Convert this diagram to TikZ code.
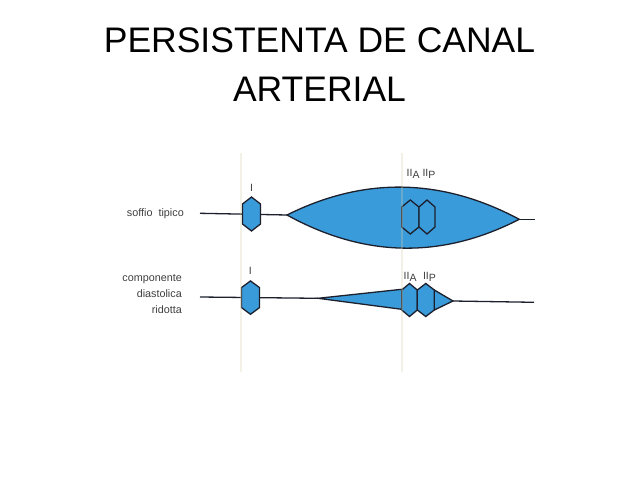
\documentclass[tikz,border=0pt]{standalone}
\usepackage{fontspec}
\setmainfont{Liberation Sans}
\definecolor{murmur}{RGB}{58,155,218}
\definecolor{ink}{RGB}{28,32,44}
\definecolor{labgrey}{RGB}{62,62,62}
\definecolor{guide}{RGB}{214,206,172}
\tikzset{
  wire/.style={draw=ink, line width=1.3pt},
  blob/.style={fill=murmur, draw=ink, line width=1.3pt, line join=miter},
  guideline/.style={draw=guide, line width=2pt, opacity=0.3},
  title/.style={font=\fontsize{35.5}{40}\selectfont, text=black, inner sep=0pt, anchor=base},
  rowlab/.style={font=\fontsize{10.8}{12}\selectfont, text=labgrey, inner sep=0pt, anchor=base east},
  snd/.style={font=\fontsize{10.5}{11}\selectfont, text=labgrey, inner sep=0pt},
  pics/hexa/.style args={#1/#2/#3}{code={
    \filldraw[blob] (-#1,-#3) -- (0,-#2) -- (#1,-#3) -- (#1,#3) -- (0,#2) -- (-#1,#3) -- cycle;}}
}
\newcommand{\IIsub}[1]{II\raisebox{-2.2pt}{#1}}
\begin{document}
\begin{tikzpicture}[x=1pt,y=-1pt]
\useasboundingbox (0,0) rectangle (638,479);
% title
\node[title] (t1) at (319.5,52.7) {PERSISTENTA DE CANAL};
\node[title] (t2) at (319.5,101.7) {ARTERIAL};
% row labels
\node[rowlab] (l1) at (184,216) {soffio\ \ tipico};
\node[rowlab] (l2a) at (182,281.7) {componente};
\node[rowlab] (l2b) at (182,297.7) {diastolica};
\node[rowlab] (l2c) at (182,313.3) {ridotta};
% ---- row 1 ----
\coordinate (a1) at (200,213.3);
\coordinate (lensL) at (287,215);
\coordinate (lensR) at (519.3,219.3);
\coordinate (b1) at (535,219.3);
\draw[wire] (a1) -- (lensL);
\draw[wire] (lensR) -- (b1);
\filldraw[blob] (lensL) .. controls (364.3,176.4) and (441.7,177.9) .. (lensR)
  .. controls (441.7,259.2) and (364.3,257.7) .. (lensL) -- cycle;
\pic at (251.5,214) {hexa=9/17/10};
\pic at (410.3,217) {hexa=8.6/17/10};
\pic at (427,217) {hexa=8/17/10};
\node[snd] (i1) at (251.7,187.5) {I};
\node[snd, anchor=base west] (ia1) at (406.5,176.7) {\IIsub{A}};
\node[snd, anchor=base west] (ip1) at (422.3,176.7) {\IIsub{P}};
% ---- row 2 ----
\coordinate (a2) at (200,297);
\coordinate (triL) at (318,298.3);
\coordinate (triR) at (453,301);
\coordinate (b2) at (534,302.3);
\draw[wire] (a2) -- (triL);
\draw[wire] (triR) -- (b2);
\filldraw[blob] (triL) -- (401.7,289.3) -- (401.7,309.3) -- cycle;
\filldraw[blob] (434.3,290) -- (triR) -- (434.3,310) -- cycle;
\pic at (250.5,297.6) {hexa=9/16.7/10};
\pic at (409.5,300) {hexa=7.8/16.5/10};
\pic at (425.8,300) {hexa=8.5/16.5/10};
\node[snd] (i2) at (250.3,271) {I};
\node[snd, anchor=base west] (ia2) at (403.5,279.5) {\IIsub{A}};
\node[snd, anchor=base west] (ip2) at (422.8,279.5) {\IIsub{P}};
% guide lines
\draw[guideline] (241,153) -- (241,372);
\draw[guideline] (402,153) -- (402,372);
\end{tikzpicture}
\end{document}
